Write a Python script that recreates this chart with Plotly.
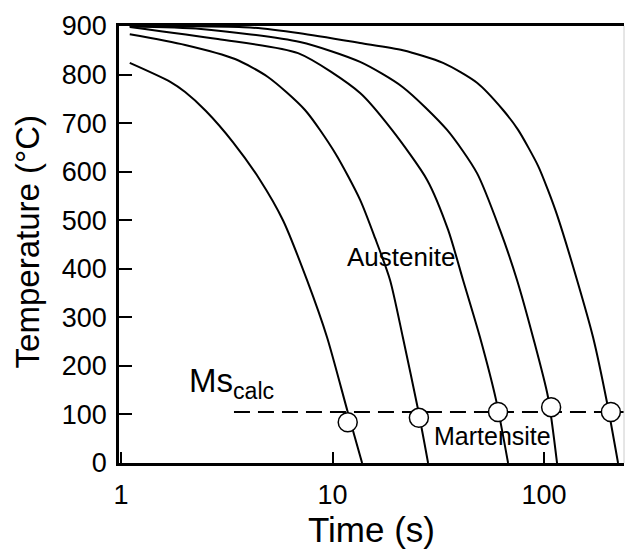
import math
import plotly.graph_objects as go

# ---- data (time in s, temperature in °C) ----
t1 = [1.10, 1.71, 2.01, 2.52, 3.38, 4.54, 5.83, 7.57, 9.42, 11.8, 13.8]
T1 = [824, 785, 764, 725, 661, 583, 500, 377, 259, 105, 0]

t2 = [1.10, 2.01, 3.46, 4.95, 7.41, 10.3, 13.5, 15.9, 18.7, 21.5, 25.4, 28.3]
T2 = [883, 861, 832, 795, 727, 638, 542, 463, 377, 259, 109, 0]

t3 = [1.10, 2.87, 6.87, 13.5, 19.1, 28.0, 35.2, 41.4, 49.8, 59.3, 67.6]
T3 = [898, 873, 844, 762, 686, 583, 480, 377, 259, 130, 0]

t4 = [1.10, 2.39, 7.02, 13.5, 21.5, 34.8, 48.2, 61.9, 74.5, 88.7, 104.4, 115.2]
T4 = [899, 894, 867, 826, 774, 686, 597, 480, 377, 259, 136, 0]

t5 = [1.10, 4.07, 7.02, 13.5, 21.5, 33.3, 48.2, 64.0, 75.4, 93.7, 104.4, 115.2, 143.2, 170.5, 198.6, 223.8]
T5 = [900, 897, 885, 865, 850, 824, 783, 727, 686, 612, 562, 511, 377, 259, 124, 0]

ms_time = [11.8, 25.6, 60.6, 108, 207]
ms_temp = [84, 93, 105, 115, 105]

ms_calc = 105
ms_line_t = [3.42, 240]

x_ticks = [1, 10, 100]
y_ticks = [0, 100, 200, 300, 400, 500, 600, 700, 800, 900]

FONT = "Liberation Sans, Arial, sans-serif"

fig = go.Figure()
for tt, TT in [(t1, T1), (t2, T2), (t3, T3), (t4, T4), (t5, T5)]:
    fig.add_trace(go.Scatter(x=tt, y=TT, mode="lines",
                             line=dict(color="black", width=2, shape="spline", smoothing=0.7),
                             showlegend=False, hoverinfo="skip"))

fig.add_trace(go.Scatter(x=ms_line_t, y=[ms_calc, ms_calc], mode="lines",
                         line=dict(color="black", width=2, dash="16px,8px"),
                         showlegend=False, hoverinfo="skip"))

fig.add_trace(go.Scatter(x=ms_time, y=ms_temp, mode="markers",
                         marker=dict(symbol="circle", size=19, color="white",
                                     line=dict(color="black", width=1.5)),
                         showlegend=False))

fig.update_xaxes(type="log", range=[math.log10(1) - 0.0095, 2.378],
                 tickvals=x_ticks, ticktext=[str(v) for v in x_ticks],
                 ticks="inside", ticklen=11, tickwidth=2, tickcolor="black",
                 showline=True, linecolor="black", linewidth=2.7, mirror=True,
                 showgrid=False, zeroline=False,
                 tickfont=dict(family=FONT, size=27, color="black"),
                 ticklabelstandoff=6)
fig.update_yaxes(range=[0, 900], tickvals=y_ticks,
                 ticks="inside", ticklen=13, tickwidth=2, tickcolor="black",
                 showline=True, linecolor="black", linewidth=2.7, mirror=False,
                 showgrid=False, zeroline=False,
                 tickfont=dict(family=FONT, size=27, color="black"),
                 ticklabelstandoff=4)

annots = [
    dict(text="Time (s)", x=0.5, y=-0.153, xref="paper", yref="paper",
         xanchor="center", yanchor="middle", showarrow=False,
         font=dict(family=FONT, size=35, color="black")),
    dict(text="Temperature (°C)", x=-0.182, y=0.505, xref="paper", yref="paper",
         xanchor="center", yanchor="middle", showarrow=False, textangle=-90,
         font=dict(family=FONT, size=33, color="black")),
    dict(text="Austenite", x=1.324, y=424, xref="x", yref="y",
         xanchor="center", yanchor="middle", showarrow=False,
         font=dict(family=FONT, size=26, color="black")),
    dict(text="Martensite", x=1.754, y=55.6, xref="x", yref="y",
         xanchor="center", yanchor="middle", showarrow=False,
         font=dict(family=FONT, size=25, color="black")),
    dict(text="Ms<sub>calc</sub>", x=0.312, y=164, xref="x", yref="y",
         xanchor="left", yanchor="middle", showarrow=False,
         font=dict(family=FONT, size=33, color="black")),
]

fig.update_layout(
    width=625, height=550,
    margin=dict(l=119, r=1, t=26, b=87),
    paper_bgcolor="white", plot_bgcolor="white",
    annotations=annots,
    shapes=[dict(type="line", xref="paper", yref="paper", x0=1, x1=1, y0=1, y1=0,
                 line=dict(color="#cccccc", width=1))],
)

fig.write_html("out.html")
